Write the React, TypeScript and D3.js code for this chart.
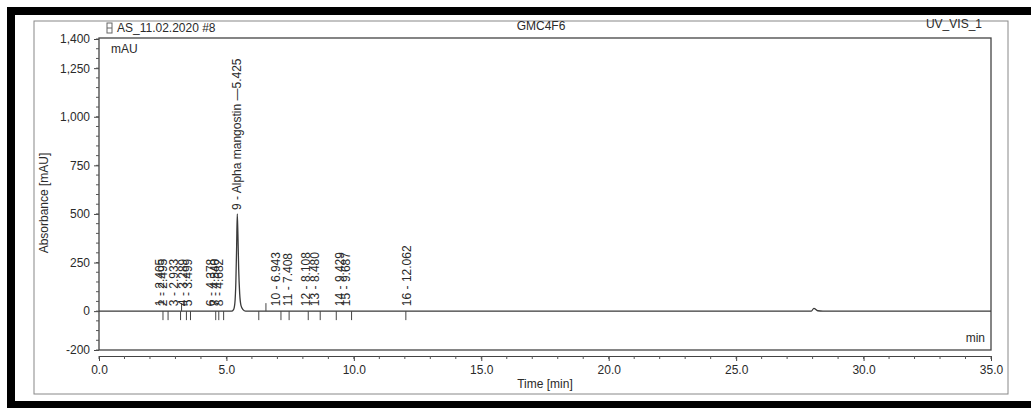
import React, { useEffect, useRef } from "react";
import * as d3 from "d3";

// Peak table (number, retention time, name)
const peakNumbers = [1, 2, 3, 4, 5, 6, 7, 8, 9, 10, 11, 12, 13, 14, 15, 16];
const peakTimes = [
  2.405, 2.495, 2.933, 3.289, 3.499, 4.378, 4.54, 4.682, 5.425, 6.943, 7.408,
  8.108, 8.48, 9.429, 9.687, 12.062,
];
const peakNames = ["", "", "", "", "", "", "", "", "Alpha mangostin", "", "", "", "", "", "", ""];

// Signal trace (min, mAU)
const traceTimes = [
  0, 5.2, 5.28, 5.33, 5.37, 5.4, 5.425, 5.45, 5.48, 5.52, 5.57, 5.65, 5.75, 27.95,
  28.05, 28.2, 28.4, 35,
];
const traceValues = [0, 0, 8, 40, 150, 330, 500, 400, 220, 90, 30, 8, 0, 0, 14, 2, 0, 0];

// Integration delimiter marks below the baseline
const delimiterTimes = [
  2.51, 2.71, 3.2, 3.43, 3.59, 4.58, 4.7, 4.89, 6.27, 7.14, 7.46, 8.21, 8.68, 9.31,
  9.91, 12.04,
];
const markerAboveTimes = [3.24, 6.55];

const yTickValues = [-200, 0, 250, 500, 750, 1000, 1250, 1400];
const xTickValues = [0, 5, 10, 15, 20, 25, 30, 35];

const FONT = "'Liberation Sans', Arial, sans-serif";
const INK = "#2a2a2a";

export default function App() {
  const ref = useRef<SVGSVGElement>(null);

  useEffect(() => {
    const svg = d3.select(ref.current);
    svg.selectAll("*").remove();

    const width = 1031,
      height = 412;

    // Scales
    const x = d3.scaleLinear().domain([0, 35]).range([99, 991]);
    const y = d3.scaleLinear().domain([-200, 1400]).range([350, 39]);

    svg.append("rect").attr("width", width).attr("height", height).attr("fill", "#fff");

    // Black scan border
    svg.append("rect").attr("x", 7).attr("y", 7).attr("width", width - 7).attr("height", 8).attr("fill", "#000");
    svg.append("rect").attr("x", 7).attr("y", 7).attr("width", 8).attr("height", 401).attr("fill", "#000");
    svg.append("rect").attr("x", 7).attr("y", 401).attr("width", width - 7).attr("height", 7).attr("fill", "#000");

    // Page frame
    svg
      .append("rect")
      .attr("x", 34)
      .attr("y", 21)
      .attr("width", 974)
      .attr("height", 373)
      .attr("fill", "none")
      .attr("stroke", "#888")
      .attr("stroke-width", 1);

    // Header
    svg.append("rect").attr("x", 107).attr("y", 23).attr("width", 5).attr("height", 10)
      .attr("fill", "none").attr("stroke", "#666").attr("stroke-width", 1);
    svg.append("line").attr("x1", 107).attr("x2", 112).attr("y1", 28).attr("y2", 28).attr("stroke", "#666");

    const header = svg.append("g").attr("font-family", FONT).attr("font-size", 12).attr("fill", INK);
    header.append("text").attr("x", 117).attr("y", 32).text("AS_11.02.2020 #8");
    header.append("text").attr("x", 541).attr("y", 30).attr("text-anchor", "middle").text("GMC4F6");
    header.append("text").attr("x", 982).attr("y", 28).attr("text-anchor", "end").text("UV_VIS_1");

    // Plot box
    svg
      .append("rect")
      .attr("x", x(0))
      .attr("y", 38)
      .attr("width", x(35) - x(0))
      .attr("height", 350 - 38)
      .attr("fill", "none")
      .attr("stroke", "#444")
      .attr("stroke-width", 1.3);

    // Y axis
    const yAxis = svg
      .append("g")
      .attr("transform", `translate(${x(0)},0)`)
      .call(
        d3
          .axisLeft(y)
          .tickValues(yTickValues)
          .tickSize(5)
          .tickPadding(4)
          .tickFormat((d) => d3.format(",")(d as number).replace("\u2212", "-"))
      );
    yAxis.select(".domain").remove();
    yAxis.selectAll("line").attr("stroke", "#444");
    yAxis.selectAll("text").attr("font-family", FONT).attr("font-size", 12).attr("fill", INK);

    // Y minor ticks every 50 mAU
    svg
      .append("g")
      .selectAll("line")
      .data(d3.range(-200, 1401, 50))
      .join("line")
      .attr("x1", x(0) - 3)
      .attr("x2", x(0))
      .attr("y1", (d) => y(d))
      .attr("y2", (d) => y(d))
      .attr("stroke", "#555");

    // X axis below the plot box
    const xAxis = svg
      .append("g")
      .attr("transform", "translate(0,356)")
      .call(
        d3
          .axisBottom(x)
          .tickValues(xTickValues)
          .tickSize(5)
          .tickSizeOuter(0)
          .tickPadding(4)
          .tickFormat(d3.format(".1f"))
      );
    xAxis.select(".domain").attr("stroke", "#444").attr("stroke-width", 1.2);
    xAxis.selectAll("line").attr("stroke", "#444");
    xAxis.selectAll("text").attr("font-family", FONT).attr("font-size", 12).attr("fill", INK);

    svg
      .append("g")
      .selectAll("line")
      .data(d3.range(0, 36, 1))
      .join("line")
      .attr("x1", (d) => x(d))
      .attr("x2", (d) => x(d))
      .attr("y1", 356)
      .attr("y2", 359)
      .attr("stroke", "#555");

    // Axis titles and units
    const titles = svg.append("g").attr("font-family", FONT).attr("font-size", 12).attr("fill", INK);
    titles.append("text").attr("x", 545).attr("y", 388).attr("text-anchor", "middle").text("Time [min]");
    titles
      .append("text")
      .attr("transform", "translate(48,203) rotate(-90)")
      .attr("text-anchor", "middle")
      .text("Absorbance [mAU]");
    titles.append("text").attr("x", 111).attr("y", 53).text("mAU");
    titles.append("text").attr("x", 985).attr("y", 342).attr("text-anchor", "end").text("min");

    // Trace
    const trace = traceTimes.map((t, i) => [t, traceValues[i]] as [number, number]);
    const line = d3
      .line<[number, number]>()
      .x((d) => x(d[0]))
      .y((d) => y(d[1]))
      .curve(d3.curveMonotoneX);
    svg
      .append("path")
      .datum(trace)
      .attr("d", line)
      .attr("fill", "none")
      .attr("stroke", "#3a3a3a")
      .attr("stroke-width", 1.3);

    // Delimiter marks
    const y0 = y(0);
    svg
      .append("g")
      .selectAll("line")
      .data(delimiterTimes)
      .join("line")
      .attr("x1", (d) => x(d))
      .attr("x2", (d) => x(d))
      .attr("y1", y0)
      .attr("y2", y0 + 9)
      .attr("stroke", "#444")
      .attr("stroke-width", 1);
    svg
      .append("g")
      .selectAll("line")
      .data(markerAboveTimes)
      .join("line")
      .attr("x1", (d) => x(d))
      .attr("x2", (d) => x(d))
      .attr("y1", y0 - 8)
      .attr("y2", y0)
      .attr("stroke", "#444")
      .attr("stroke-width", 1);

    // Peak labels, rotated upward from above each peak
    const peakHeight = (t: number) => {
      const i = d3.bisectLeft(traceTimes, t);
      return Math.max(0, traceValues[Math.min(i, traceValues.length - 1)]);
    };
    svg
      .append("g")
      .selectAll("text")
      .data(peakNumbers)
      .join("text")
      .attr("transform", (d, i) => {
        const t = peakTimes[i];
        const top = Math.min(y0 - 5, y(peakHeight(t)) - 4);
        return `translate(${x(t)},${top}) rotate(-90)`;
      })
      .attr("dy", "0.35em")
      .attr("font-family", FONT)
      .attr("font-size", 12)
      .attr("fill", INK)
      .text((d, i) =>
        peakNames[i]
          ? `${d} - ${peakNames[i]} \u2014${peakTimes[i].toFixed(3)}`
          : `${d} - ${peakTimes[i].toFixed(3)}`
      );
  }, []);

  return (
    <div style={{ position: "absolute", left: 0, top: 0 }}>
      <svg ref={ref} width={1031} height={412}></svg>
    </div>
  );
}
